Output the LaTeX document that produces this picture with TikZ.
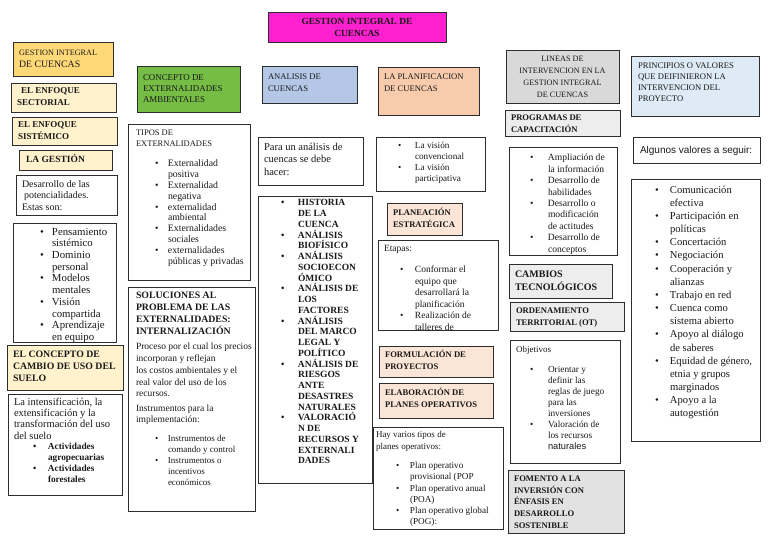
\documentclass[tikz,border=0pt]{standalone}
\usepackage{fontspec}
\setmainfont{Liberation Serif}
\setsansfont{Liberation Sans}
\definecolor{cMag}{RGB}{255,32,208}
\definecolor{cGold}{RGB}{255,217,120}
\definecolor{cCream}{RGB}{255,242,204}
\definecolor{cGreen}{RGB}{118,189,69}
\definecolor{cBlue}{RGB}{180,199,231}
\definecolor{cPeach}{RGB}{248,203,173}
\definecolor{cLPeach}{RGB}{251,229,214}
\definecolor{cGray}{RGB}{217,217,217}
\definecolor{cLGray}{RGB}{237,237,237}
\definecolor{cMGray}{RGB}{226,226,226}
\definecolor{cLBlue}{RGB}{222,235,247}
\definecolor{cText}{RGB}{25,25,25}
\definecolor{cLine}{RGB}{45,45,45}
\newlength\bw
\newcommand\bl{\makebox[\bw][l]{\textbullet}}
\newcommand\nb{\makebox[\bw]{}}
\tikzset{
  boxbase/.style={draw=cLine, line width=1pt, anchor=north west, inner sep=0pt, outer sep=0pt, fill=white},
  txt/.style={anchor=north west, inner sep=0pt, outer sep=0pt, align=left, text=cText},
  txtc/.style={anchor=north, inner sep=0pt, outer sep=0pt, align=center, text=cText}
}
\newcommand\mkbox[6]{\node[boxbase,minimum width=#4pt,minimum height=#5pt,#6] (#1) at (#2,#3) {};}
\newcommand\tx[7]{\node[txt,font={\fontsize{#4}{#5}\selectfont\setlength\bw{#6pt}}] (#1) at (#2,#3) {\strut #7};}
\newcommand\txb[7]{\node[txt,font={\fontsize{#4}{#5}\selectfont\bfseries\setlength\bw{#6pt}}] (#1) at (#2,#3) {\strut #7};}
\begin{document}
\begin{tikzpicture}[x=1pt,y=-1pt]
\fill[white] (0,0) rectangle (768,543);
\useasboundingbox (0,0) rectangle (768,543);

% ---------- title
\mkbox{title}{268}{13}{178}{30}{fill=cMag}
\node[txtc,font={\fontsize{9.4}{11.5}\selectfont\bfseries}] (titlet) at (357,16.7) {\strut GESTION INTEGRAL DE\\CUENCAS};

% ---------- column 1
\mkbox{gic}{13}{43}{100}{33}{fill=cGold}
\node[txt,font={\fontsize{8.2}{12}\selectfont}] (gict) at (19,47) {\strut GESTION INTEGRAL\\{\fontsize{9.8}{12}\selectfont DE CUENCAS}};
\mkbox{sect}{11}{83}{105}{29}{fill=cCream}
\txb{sectt}{17}{85.3}{9}{12}{0}{\hspace{4pt}EL ENFOQUE\\SECTORIAL}
\mkbox{sist}{12}{117}{105}{28}{fill=cCream}
\txb{sistt}{18}{119.3}{9}{12}{0}{EL ENFOQUE\\SISTÉMICO}
\mkbox{gest}{19}{150}{93}{20}{fill=cCream}
\txb{gestt}{26}{154.5}{9.5}{12}{0}{LA GESTIÓN}
\mkbox{desa}{16}{175}{101}{40}{}
\tx{desat}{22}{179}{10}{11.5}{0}{Desarrollo de las\\\hspace{2pt}potencialidades.\\Estas son:}
\mkbox{pot}{13}{223}{103}{119}{}
\tx{pott}{40}{227}{10.8}{11.7}{12}{\bl Pensamiento\\\nb sistémico\\\bl Dominio\\\nb personal\\\bl Modelos\\\nb mentales\\\bl Visión\\\nb compartida\\\bl Aprendizaje\\\nb en equipo}
\mkbox{camb}{7}{345}{116}{45}{fill=cCream}
\txb{cambt}{13}{349.5}{9.8}{12}{0}{EL CONCEPTO DE\\CAMBIO DE USO DEL\\SUELO}
\mkbox{inte}{8}{394}{114}{101}{}
\tx{intet}{14}{397.2}{10.5}{11.3}{0}{La intensificación, la\\extensificación y la\\transformación del uso\\del suelo}
\txb{intel}{33}{442}{9.3}{11}{15}{\bl Actividades\\\nb agropecuarias\\\bl Actividades\\\nb forestales}

% ---------- column 2
\mkbox{conc}{137}{67}{103}{45}{fill=cGreen}
\tx{conct}{143}{73}{8.9}{11}{0}{CONCEPTO DE\\EXTERNALIDADES\\AMBIENTALES}
\mkbox{tipo}{128}{124}{122}{156}{}
\tx{tipoh}{136}{127.8}{8.5}{11}{0}{TIPOS DE\\EXTERNALIDADES}
\tx{tipol}{155}{159.4}{9.8}{10.8}{13}{\bl Externalidad\\\nb positiva\\\bl Externalidad\\\nb negativa\\\bl externalidad\\\nb ambiental\\\bl Externalidades\\\nb sociales\\\bl externalidades\\\nb públicas y privadas}
\mkbox{solu}{128}{287}{127}{224}{}
\txb{soluh}{136}{290.7}{9.8}{11.8}{0}{SOLUCIONES AL\\PROBLEMA DE LAS\\EXTERNALIDADES:\\INTERNALIZACIÓN}
\tx{solup}{136}{341.4}{9.5}{11.8}{0}{Proceso por el cual los precios\\incorporan y reflejan\\los costos ambientales y el\\real valor del uso de los\\recursos.}
\tx{solui}{136}{403.4}{9.5}{11.5}{0}{Instrumentos para la\\implementación:}
\tx{solul}{155}{434}{9}{11}{13}{\bl Instrumentos de\\\nb comando y control\\\bl Instrumentos o\\\nb incentivos\\\nb económicos}

% ---------- column 3
\mkbox{anal}{262}{67}{95}{36}{fill=cBlue}
\tx{analt}{268}{71.2}{8.6}{12}{0}{ANALISIS DE\\CUENCAS}
\mkbox{para}{258}{137}{105}{48}{}
\tx{parat}{264}{141.4}{10.5}{12.5}{0}{Para un análisis de\\cuencas se debe\\hacer:}
\mkbox{hist}{258}{196}{114}{287}{}
\txb{histt}{281}{198.3}{9.5}{10.75}{17}{\bl HISTORIA\\\nb DE LA\\\nb CUENCA\\\bl ANÁLISIS\\\nb BIOFÍSICO\\\bl ANÁLISIS\\\nb SOCIOECON\\\nb ÓMICO\\\bl ANÁLISIS DE\\\nb LOS\\\nb FACTORES\\\bl ANÁLISIS\\\nb DEL MARCO\\\nb LEGAL Y\\\nb POLÍTICO\\\bl ANÁLISIS DE\\\nb RIESGOS\\\nb ANTE\\\nb DESASTRES\\\nb NATURALES\\\bl VALORACIÓ\\\nb N DE\\\nb RECURSOS Y\\\nb EXTERNALI\\\nb DADES}

% ---------- column 4
\mkbox{plan}{378}{68}{101}{47}{fill=cPeach}
\tx{plant}{384}{71.2}{8.6}{12}{0}{LA PLANIFICACION\\DE CUENCAS}
\mkbox{visi}{376}{137}{109}{54}{}
\tx{visit}{398}{141}{9.2}{11}{17}{\bl La visión\\\nb convencional\\\bl La visión\\\nb participativa}
\mkbox{plae}{387}{203}{75}{32}{fill=cLPeach}
\txb{plaet}{393}{207.2}{8.6}{12}{0}{PLANEACIÓN\\ESTRATÉGICA}
\mkbox{etap}{378}{240}{120}{90}{}
\tx{etapt}{384}{243.8}{9.5}{11.5}{0}{Etapas:}
\tx{etapl}{400}{264.8}{9.5}{11.5}{15}{\bl Conformar el\\\nb equipo que\\\nb desarrollará la\\\nb planificación\\\bl Realización de\\\nb talleres de}
\mkbox{form}{379}{346}{114}{31}{fill=cLPeach}
\txb{formt}{385}{349.5}{8.6}{11.5}{0}{FORMULACIÓN DE\\PROYECTOS}
\mkbox{elab}{379}{383}{114}{35}{fill=cLPeach}
\txb{elabt}{385}{387.5}{8.6}{11.5}{0}{ELABORACIÓN DE\\PLANES OPERATIVOS}
\mkbox{hayv}{373}{427}{130}{102}{}
\tx{hayvt}{376}{428.8}{9}{12}{0}{Hay varios tipos de\\planes operativos:}
\tx{hayvl}{396}{460.9}{9.2}{11.2}{14}{\bl Plan operativo\\\nb provisional (POP\\\bl Plan operativo anual\\\nb (POA)\\\bl Plan operativo global\\\nb (POG):}

% ---------- column 5
\mkbox{line}{506}{51}{113}{52}{fill=cGray}
\node[txtc,font={\fontsize{8.2}{12}\selectfont}] (linet) at (562.5,53.1) {\strut LINEAS DE\\INTERVENCION EN LA\\GESTION INTEGRAL\\DE CUENCAS};
\mkbox{prog}{505}{110}{115}{26}{fill=cLGray}
\txb{progt}{511}{112.2}{8.6}{12}{0}{PROGRAMAS DE\\CAPACITACIÓN}
\mkbox{ampl}{509}{147}{108}{108}{}
\tx{amplt}{530}{152.9}{9.6}{11.4}{18}{\bl Ampliación de\\\nb la información\\\bl Desarrollo de\\\nb habilidades\\\bl Desarrollo o\\\nb modificación\\\nb de actitudes\\\bl Desarrollo de\\\nb conceptos}
\mkbox{cambt}{509}{264}{103}{34}{fill=cLGray}
\txb{cambtt}{515}{267.9}{10}{13}{0}{CAMBIOS\\TECNOLÓGICOS}
\mkbox{orde}{510}{302}{114}{29}{fill=cLGray}
\txb{ordet}{516}{305.2}{8.6}{12}{0}{ORDENAMIENTO\\TERRITORIAL (OT)}
\mkbox{obje}{510}{340}{110}{123}{}
\tx{objet}{516}{345}{9}{11}{0}{Objetivos}
\tx{objel}{530}{365}{9.3}{11}{18}{\bl Orientar y\\\nb definir las\\\nb reglas de juego\\\nb para las\\\nb inversiones\\\bl Valoración de\\\nb los recursos\\\nb {\sffamily naturales}}
\mkbox{fome}{508}{470}{116}{63}{fill=cMGray}
\txb{fomet}{514}{473.5}{8.6}{11.6}{0}{FOMENTO A LA\\INVERSIÓN CON\\ÉNFASIS EN\\DESARROLLO\\SOSTENIBLE}

% ---------- column 6
\mkbox{prin}{631}{57}{128}{59}{fill=cLBlue}
\tx{print}{638}{60.9}{8.6}{11}{0}{PRINCIPIOS O VALORES\\QUE DEIFINIERON LA\\INTERVENCION DEL\\PROYECTO}
\mkbox{algu}{633}{137}{127}{26}{}
\tx{algut}{640}{144.6}{10}{12}{0}{\sffamily Algunos valores a seguir:}
\mkbox{valo}{631}{179}{129}{262}{}
\tx{valot}{655}{184}{10.6}{13.15}{15}{\bl Comunicación\\\nb efectiva\\\bl Participación en\\\nb políticas\\\bl Concertación\\\bl Negociación\\\bl Cooperación y\\\nb alianzas\\\bl Trabajo en red\\\bl Cuenca como\\\nb sistema abierto\\\bl Apoyo al diálogo\\\nb de saberes\\\bl Equidad de género,\\\nb etnia y grupos\\\nb marginados\\\bl Apoyo a la\\\nb autogestión}
\end{tikzpicture}
\end{document}
